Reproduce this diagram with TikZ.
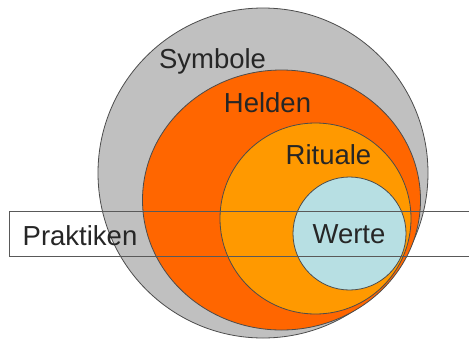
\documentclass[tikz,border=0pt]{standalone}
\usepackage{fontspec}
\setmainfont{Liberation Sans}
\definecolor{symbolgray}{HTML}{C0C0C0}
\definecolor{heldenorange}{HTML}{FF6600}
\definecolor{ritualorange}{HTML}{FF9900}
\definecolor{wertblue}{HTML}{B7DFE3}
\begin{document}
\begin{tikzpicture}[x=1pt,y=-1pt,
  ring/.style={draw=black!70,line width=0.8pt},
  ringtext/.style={font=\fontsize{27.5}{33}\selectfont,text=black!85,inner sep=0pt,anchor=base}]
\useasboundingbox (0,0) rectangle (469,341);
\fill[white] (0,0) rectangle (469,341);

\filldraw[ring,fill=symbolgray] (263,173) circle (165pt);
\filldraw[ring,fill=heldenorange] (281.5,200) ellipse [x radius=139pt, y radius=130pt];
\filldraw[ring,fill=ritualorange] (315.5,218.5) circle (95.5pt);
\filldraw[ring,fill=wertblue] (349.5,233.5) circle (56.5pt);

\draw[draw=black!65,line width=1pt] (9.5,211) rectangle (480,256.5);

\node[ringtext] (symbole) at (212.5,68) {Symbole};
\node[ringtext] (helden) at (267.5,112) {Helden};
\node[ringtext] (rituale) at (328.5,164) {Rituale};
\node[ringtext] (werte) at (349,243) {Werte};
\node[ringtext] (praktiken) at (80,245) {Praktiken};
\end{tikzpicture}
\end{document}
